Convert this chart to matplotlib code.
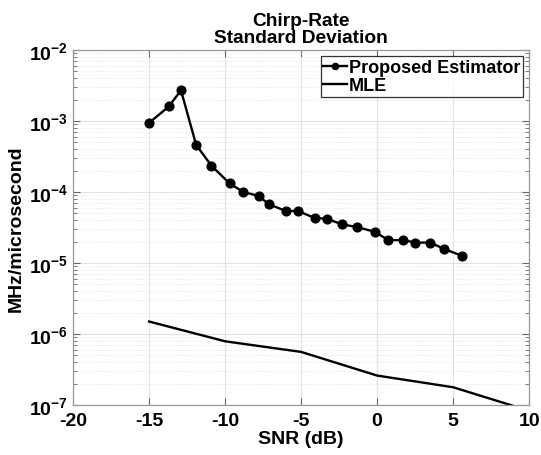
import matplotlib.pyplot as plt
import matplotlib.ticker as mticker
import numpy as np

plt.rcParams['font.family'] = ['Liberation Sans', 'DejaVu Sans']
plt.rcParams['font.weight'] = 'bold'
plt.rcParams['axes.unicode_minus'] = False
plt.rcParams['mathtext.fontset'] = 'custom'
plt.rcParams['mathtext.rm'] = 'Liberation Sans:bold'
plt.rcParams['mathtext.bf'] = 'Liberation Sans:bold'
plt.rcParams['mathtext.it'] = 'Liberation Sans:bold'

# proposed estimator: measured SNR (dB) and std of chirp rate
snr_prop = [-15.0, -13.7, -12.9, -11.9, -10.9, -9.7, -8.8, -7.8, -7.1, -6.0, -5.2,
            -4.1, -3.3, -2.3, -1.3, -0.15, 0.74, 1.73, 2.5, 3.5, 4.4, 5.6]
std_prop = [9.4e-4, 1.6e-3, 2.7e-3, 4.6e-4, 2.35e-4, 1.32e-4, 1.0e-4, 8.8e-5, 6.7e-5,
            5.4e-5, 5.4e-5, 4.3e-5, 4.2e-5, 3.5e-5, 3.2e-5, 2.75e-5, 2.1e-5, 2.1e-5,
            1.94e-5, 1.94e-5, 1.58e-5, 1.26e-5]

# MLE
snr_mle = [-15, -10, -5, 0, 5, 10]
std_mle = [1.5e-6, 7.9e-7, 5.6e-7, 2.6e-7, 1.78e-7, 8.3e-8]

fig = plt.figure(figsize=(5.41, 4.56), dpi=100)
ax = fig.add_axes([0.135, 0.1096, 0.843, 0.7786])

ax.semilogy(snr_prop, std_prop, '-o', color='k', lw=1.7, ms=6.3, label='Proposed Estimator')
ax.semilogy(snr_mle, std_mle, '-', color='k', lw=1.7, label='MLE')

ax.set_xlim(-20, 10)
ax.set_ylim(1e-7, 1e-2)
ax.set_xticks([-20, -15, -10, -5, 0, 5, 10])
ax.yaxis.set_major_locator(mticker.LogLocator(base=10, numticks=10))
ax.yaxis.set_minor_locator(mticker.LogLocator(base=10, subs=np.arange(2, 10), numticks=20))
ax.yaxis.set_minor_formatter(mticker.NullFormatter())
ax.yaxis.set_major_formatter(mticker.FuncFormatter(
    lambda v, p: r'$\mathbf{10^{%d}}$' % int(round(np.log10(v)))))

ax.grid(True, which='major', color='#e2e2e2', lw=0.8, ls='-')
ax.grid(True, which='minor', axis='y', color='#dddddd', lw=0.6, ls=(0, (1, 2)))
ax.set_axisbelow(True)

ax.tick_params(which='both', direction='in', top=True, right=True,
               labelsize=14, color='#666666')
ax.tick_params(axis='x', pad=5)
ax.tick_params(which='major', length=5)
ax.tick_params(which='minor', length=3)
for lab in ax.get_xticklabels():
    lab.set_fontweight('bold')
for s in ax.spines.values():
    s.set_color('#999999')
    s.set_linewidth(0.9)

ax.set_xlabel('SNR (dB)', fontsize=14, fontweight='bold', labelpad=1)
ax.set_ylabel('MHz/microsecond', fontsize=14, fontweight='bold', labelpad=3)
ax.set_title('Chirp-Rate\nStandard Deviation', fontsize=13.8, fontweight='bold',
             linespacing=0.95, pad=6)

leg = ax.legend(loc='upper right', fontsize=13, frameon=True, fancybox=False,
                borderaxespad=0.35, handlelength=1.3, handletextpad=0.1,
                borderpad=0.15, labelspacing=0.05, markerscale=0.7)
leg.get_frame().set_edgecolor('k')
leg.get_frame().set_linewidth(0.9)
for t in leg.get_texts():
    t.set_fontweight('bold')

fig.savefig('out.png', dpi=100)
